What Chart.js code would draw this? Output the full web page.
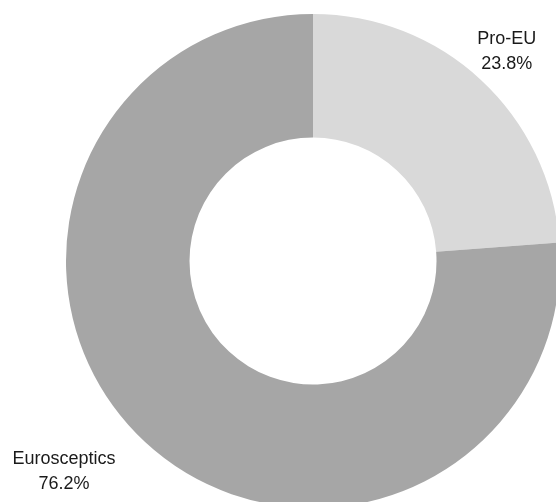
<!DOCTYPE html>
<html>
<head>
<meta charset="utf-8">
<script src="https://cdn.jsdelivr.net/npm/chart.js@4"></script>
<style>
  html, body { margin: 0; padding: 0; width: 556px; height: 502px; overflow: hidden; background: #ffffff; }
  #wrap { position: absolute; left: 0; top: 0; width: 660px; height: 560px; }
</style>
</head>
<body>
<div id="wrap"><canvas id="c" width="660" height="560"></canvas></div>
<script>
const categories = ["Pro-EU", "Eurosceptics"];
const shares = [23.8, 76.2];
const percentLabels = ["23.8%", "76.2%"];
const sliceColors = ["#d9d9d9", "#a6a6a6"];

const labelPlugin = {
  id: 'sliceLabels',
  afterDraw(chart, args, opts) {
    const ctx = chart.ctx;
    const meta = chart.getDatasetMeta(0);
    ctx.save();
    ctx.font = opts.font;
    ctx.fillStyle = opts.color;
    ctx.textAlign = 'center';
    ctx.textBaseline = 'middle';
    meta.data.forEach((arc, i) => {
      const p = opts.place[i];
      const mid = (arc.startAngle + arc.endAngle) / 2 + p.dAngle * Math.PI / 180;
      const r = arc.outerRadius * p.radial;
      const x = arc.x + Math.cos(mid) * r;
      const y = arc.y + Math.sin(mid) * r;
      ctx.fillText(categories[i], x, y - opts.lineGap / 2);
      ctx.fillText(percentLabels[i], x, y + opts.lineGap / 2);
    });
    ctx.restore();
  }
};

new Chart(document.getElementById('c'), {
  type: 'doughnut',
  data: {
    labels: categories,
    datasets: [{
      data: shares,
      backgroundColor: sliceColors,
      borderWidth: 0,
      hoverOffset: 0
    }]
  },
  options: {
    responsive: false,
    devicePixelRatio: 1,
    animation: false,
    cutout: '50%',
    layout: { padding: { left: 66, top: 14, right: 100, bottom: 52 } },
    plugins: {
      legend: { display: false },
      tooltip: { enabled: false },
      sliceLabels: {
        font: '18px "Liberation Sans", Arial, sans-serif',
        color: '#1a1a1a',
        lineGap: 25,
        place: [ { radial: 1.154, dAngle: 0 }, { radial: 1.321, dAngle: 6.9 } ]
      }
    }
  },
  plugins: [labelPlugin]
});
</script>
</body>
</html>
